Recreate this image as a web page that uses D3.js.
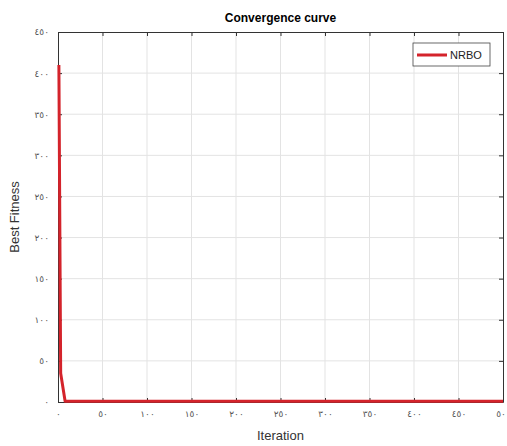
<!DOCTYPE html>
<html>
  <head>
    <title>Convergence curve</title>
    <style>
      body { margin: 0; background: #fff; }
      .tick text { font-family: "DejaVu Sans", sans-serif; font-size: 9px; fill: #555; }
      .grid line { stroke: #e3e3e3; }
    </style>
    <script src="https://cdnjs.cloudflare.com/ajax/libs/d3/7.8.5/d3.min.js"></script>
  </head>
  <body>
    <script>
      // data
      const iterations = [1, 3, 8, 500];
      const bestFitness = [410, 35, 1, 1];
      const xTicks = [0, 50, 100, 150, 200, 250, 300, 350, 400, 450, 500];
      const yTicks = [0, 50, 100, 150, 200, 250, 300, 350, 400, 450];
      const seriesName = 'NRBO';

      const width = 507;
      const height = 446;
      const margin = { top: 32, right: 4, bottom: 44, left: 58 };

      const fa = d3.formatLocale({
        decimal: '.', thousands: ',', grouping: [3], currency: ['', ''],
        numerals: ['٠','١','٢','٣','٤','٥','٦','٧','٨','٩']
      }).format('d');

      const svg = d3.select('body').append('svg')
        .attr('width', width).attr('height', height);

      const x = d3.scaleLinear().domain([0, 500])
        .range([margin.left, width - margin.right]);
      const y = d3.scaleLinear().domain([0, 450])
        .range([height - margin.bottom, margin.top]);

      // grid
      svg.append('g').attr('class', 'grid')
        .selectAll('line').data(xTicks.slice(1, -1)).join('line')
        .attr('x1', d => x(d)).attr('x2', d => x(d))
        .attr('y1', y(0)).attr('y2', y(450));
      svg.append('g').attr('class', 'grid')
        .selectAll('line').data(yTicks.slice(1, -1)).join('line')
        .attr('y1', d => y(d)).attr('y2', d => y(d))
        .attr('x1', x(0)).attr('x2', x(500));

      // axes, ticks pointing inward like matlab
      const axisColor = '#333';
      svg.append('g')
        .attr('transform', `translate(0,${y(0)})`)
        .call(d3.axisBottom(x).tickValues(xTicks).tickFormat(fa).tickSizeInner(-4).tickSizeOuter(0).tickPadding(9));
      svg.append('g')
        .attr('transform', `translate(${x(0)},0)`)
        .call(d3.axisLeft(y).tickValues(yTicks).tickFormat(fa).tickSizeInner(-4).tickSizeOuter(0).tickPadding(9));
      svg.append('g')
        .attr('transform', `translate(0,${y(450)})`)
        .call(d3.axisTop(x).tickValues(xTicks).tickFormat('').tickSizeInner(-4).tickSizeOuter(0));
      svg.append('g')
        .attr('transform', `translate(${x(500)},0)`)
        .call(d3.axisRight(y).tickValues(yTicks).tickFormat('').tickSizeInner(-4).tickSizeOuter(0));
      svg.selectAll('.domain, .tick line').attr('stroke', axisColor);

      // curve
      const pts = iterations.map((d, i) => [d, bestFitness[i]]);
      svg.append('path')
        .datum(pts)
        .attr('fill', 'none')
        .attr('stroke', '#d4232b')
        .attr('stroke-width', 3)
        .attr('stroke-linejoin', 'round')
        .attr('d', d3.line().x(d => x(d[0])).y(d => y(d[1])));

      // legend
      const lg = svg.append('g').attr('transform', 'translate(413,43)');
      lg.append('rect').attr('width', 77).attr('height', 23)
        .attr('fill', '#fff').attr('stroke', '#444').attr('stroke-width', 0.8);
      lg.append('line').attr('x1', 4).attr('x2', 34).attr('y1', 12).attr('y2', 12)
        .attr('stroke', '#d4232b').attr('stroke-width', 3);
      lg.append('text').attr('x', 37).attr('y', 16)
        .style('font', '11px "Liberation Sans", Arial, sans-serif')
        .attr('fill', '#222').text(seriesName);

      // titles
      svg.append('text')
        .attr('x', (x(0) + x(500)) / 2).attr('y', 22)
        .attr('text-anchor', 'middle')
        .style('font', 'bold 12px "Liberation Sans", Arial, sans-serif')
        .text('Convergence curve');
      svg.append('text')
        .attr('x', (x(0) + x(500)) / 2).attr('y', 440)
        .attr('text-anchor', 'middle')
        .attr('fill', '#333')
        .style('font', '13px "Liberation Sans", Arial, sans-serif')
        .text('Iteration');
      svg.append('text')
        .attr('transform', `translate(19,${(y(0) + y(450)) / 2}) rotate(-90)`)
        .attr('text-anchor', 'middle')
        .attr('fill', '#333')
        .style('font', '13px "Liberation Sans", Arial, sans-serif')
        .text('Best Fitness');
    </script>
  </body>
</html>
